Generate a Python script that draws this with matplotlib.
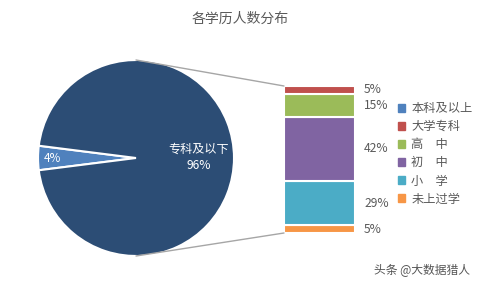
import matplotlib
matplotlib.use("Agg")
import matplotlib.pyplot as plt
from matplotlib.patches import ConnectionPatch, Patch
import numpy as np

plt.rcParams['font.family'] = ['Noto Sans CJK SC', 'DejaVu Sans']

title = '各学历人数分布'
pie_labels = ['本科及以上', '专科及以下']
pie_values = [4, 96]
pie_colors = ['#4F81BD', '#2C4D75']

bar_labels = ['大学专科', '高　中', '初　中', '小　学', '未上过学']
bar_values = [5, 15, 42, 29, 5]
bar_colors = ['#C0504D', '#9BBB59', '#8064A2', '#4BACC6', '#F79646']

W, H = 481, 289
fig = plt.figure(figsize=(W / 100, H / 100), dpi=100)

def ax_px(x0, y0, x1, y1):
    return fig.add_axes([x0 / W, 1 - y1 / H, (x1 - x0) / W, (y1 - y0) / H])

# Pie
axp = ax_px(38, 60, 234, 256)
half = pie_values[0] / sum(pie_values) * 360 / 2
wedges, _ = axp.pie(pie_values, colors=pie_colors, startangle=180 - half,
                    radius=1, wedgeprops=dict(edgecolor='white', linewidth=1.5))
axp.set_xlim(-1, 1)
axp.set_ylim(-1, 1)
axp.set_aspect('auto')
axp.axis('off')
axp.text(-0.85, 0.0, f'{pie_values[0]}%', color='white', fontsize=8.5,
         ha='center', va='center')
axp.text(0.64, 0.01, f'{pie_labels[1]}\n{pie_values[1]}%', color='white', fontsize=8.7,
         ha='center', va='center', linespacing=1.35)

# Bar
axb = ax_px(284, 86, 355, 233)
bottom = 0
rev = list(zip(bar_labels, bar_values, bar_colors))[::-1]
for lab, v, c in rev:
    axb.bar(0, v, bottom=bottom, width=1, color=c, edgecolor='white', linewidth=1.5)
    axb.text(0.63, bottom + v / 2, f'{v}%', color='#595959', fontsize=8.7,
             ha='left', va='center')
    bottom += v
total = sum(bar_values)
axb.set_xlim(-0.5, 0.5)
axb.set_ylim(0, total)
axb.axis('off')

# Connectors
for yp, yb in [(1, total), (-1, 0)]:
    con = ConnectionPatch(xyA=(0, yp), coordsA=axp.transData,
                          xyB=(-0.5, yb), coordsB=axb.transData,
                          color='#A6A6A6', linewidth=1)
    fig.add_artist(con)

# Legend
handles = [Patch(color=pie_colors[0], label=pie_labels[0])] + \
          [Patch(color=c, label=l) for l, c in zip(bar_labels, bar_colors)]
fig.legend(handles=handles, loc='upper left', bbox_to_anchor=(398 / W, 1 - 102 / H),
           frameon=False, fontsize=8.8, handlelength=0.6, handleheight=0.6,
           handletextpad=0.5, labelspacing=0.42, labelcolor='#595959',
           borderpad=0, borderaxespad=0)

fig.text(240 / W, 1 - 18.5 / H, title, ha='center', va='center', fontsize=10, color='#595959')
fig.text(470 / W, 1 - 270 / H, '头条 @大数据猎人', ha='right', va='center', fontsize=8.5,
         color='#555555')

fig.savefig('out.png', dpi=100)
